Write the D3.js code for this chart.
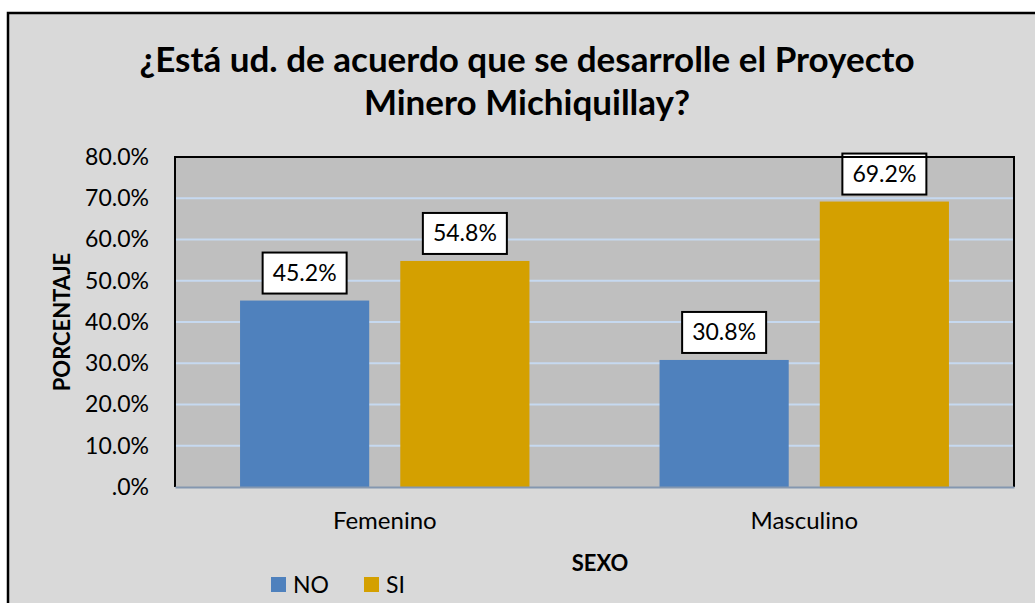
<!DOCTYPE html>
<html>
<head>
<meta charset="utf-8">
<script src="https://cdn.jsdelivr.net/npm/d3@7"></script>
<style>
  body { margin: 0; background: #fff; }
  svg { display: block; font-family: Lato, "Open Sans", sans-serif; }
</style>
</head>
<body>
<div id="chart"></div>
<script>
var categories = ["Femenino", "Masculino"];
var seriesNames = ["NO", "SI"];
var noValues = [45.2, 30.8];
var siValues = [54.8, 69.2];
var yTicks = [0, 10, 20, 30, 40, 50, 60, 70, 80];

var colors = { NO: "#4f81bd", SI: "#d4a000" };

var W = 1035, H = 603;
var plot = { left: 175, top: 157, right: 1014, bottom: 487 };

var svg = d3.select("#chart").append("svg")
  .attr("width", W)
  .attr("height", H);

// chart area background + outer border (cut off at right/bottom)
svg.append("rect")
  .attr("x", 8).attr("y", 13)
  .attr("width", W).attr("height", H)
  .attr("fill", "#d9d9d9")
  .attr("stroke", "#000")
  .attr("stroke-width", 2.5);

svg.append("text")
  .attr("x", 527).attr("y", 72)
  .attr("text-anchor", "middle")
  .attr("font-size", 35).attr("font-weight", "bold")
  .text("¿Está ud. de acuerdo que se desarrolle el Proyecto");
svg.append("text")
  .attr("x", 527).attr("y", 115)
  .attr("text-anchor", "middle")
  .attr("font-size", 35).attr("font-weight", "bold")
  .text("Minero Michiquillay?");

var y = d3.scaleLinear().domain([0, 80]).range([plot.bottom, plot.top]);
var x0 = d3.scaleBand().domain(categories).range([plot.left, plot.right]);
var x1 = d3.scaleBand().domain(seriesNames)
  .range([0, x0.bandwidth()])
  .paddingInner(0.194).paddingOuter(0.406);

svg.append("rect")
  .attr("x", plot.left).attr("y", plot.top)
  .attr("width", plot.right - plot.left).attr("height", plot.bottom - plot.top)
  .attr("fill", "#bfbfbf");

// gridlines
svg.append("g").selectAll("line")
  .data(yTicks.filter(function(d) { return d > 0 && d < 80; }))
  .enter().append("line")
  .attr("x1", plot.left).attr("x2", plot.right)
  .attr("y1", function(d) { return y(d); })
  .attr("y2", function(d) { return y(d); })
  .attr("stroke", "#c6d9f0")
  .attr("stroke-width", 2);

var rows = categories.map(function(c, i) {
  return { cat: c, vals: [{ s: "NO", v: noValues[i] }, { s: "SI", v: siValues[i] }] };
});

var groups = svg.append("g").selectAll("g")
  .data(rows).enter().append("g")
  .attr("transform", function(d) { return "translate(" + x0(d.cat) + ",0)"; });

groups.selectAll("rect")
  .data(function(d) { return d.vals; })
  .enter().append("rect")
  .attr("x", function(d) { return x1(d.s); })
  .attr("y", function(d) { return y(d.v); })
  .attr("width", x1.bandwidth())
  .attr("height", function(d) { return y(0) - y(d.v); })
  .attr("fill", function(d) { return colors[d.s]; });

// data labels
var labels = groups.selectAll("g.lbl")
  .data(function(d) { return d.vals; })
  .enter().append("g")
  .attr("class", "lbl")
  .attr("transform", function(d) {
    return "translate(" + (x1(d.s) + x1.bandwidth() / 2) + "," + (y(d.v) - 28) + ")";
  });
labels.append("rect")
  .attr("x", -42).attr("y", -20)
  .attr("width", 84).attr("height", 41)
  .attr("fill", "#fff")
  .attr("stroke", "#000")
  .attr("stroke-width", 2);
labels.append("text")
  .attr("text-anchor", "middle")
  .attr("dy", "0.36em")
  .attr("font-size", 23)
  .text(function(d) { return d.v.toFixed(1) + "%"; });

// plot border (left, top, right)
svg.append("path")
  .attr("d", "M" + plot.left + "," + plot.bottom + "V" + plot.top + "H" + plot.right + "V" + plot.bottom)
  .attr("fill", "none")
  .attr("stroke", "#000")
  .attr("stroke-width", 2);

// y axis
var yAxis = svg.append("g")
  .attr("transform", "translate(" + (plot.left - 26) + ",0)")
  .call(d3.axisLeft(y).tickValues(yTicks).tickSize(0).tickPadding(0)
    .tickFormat(function(d) { return d === 0 ? ".0%" : d.toFixed(1) + "%"; }));
yAxis.select(".domain").remove();
yAxis.selectAll("text")
  .attr("font-size", 23)
  .attr("fill", "#000")
  .attr("text-anchor", "end")
  .attr("font-family", "Lato, 'Open Sans', sans-serif");

// x axis
var xAxis = svg.append("g")
  .attr("transform", "translate(0," + plot.bottom + ")")
  .call(d3.axisBottom(x0).tickSize(0).tickPadding(25));
xAxis.select(".domain")
  .attr("stroke", "#8497b0")
  .attr("stroke-width", 2);
xAxis.selectAll("text")
  .attr("font-size", 24)
  .attr("fill", "#000")
  .attr("font-family", "Lato, 'Open Sans', sans-serif");

svg.append("text")
  .attr("x", 600).attr("y", 571)
  .attr("text-anchor", "middle")
  .attr("font-size", 22).attr("font-weight", "bold")
  .text("SEXO");

svg.append("text")
  .attr("transform", "translate(70,322) rotate(-90)")
  .attr("text-anchor", "middle")
  .attr("font-size", 22).attr("font-weight", "bold")
  .text("PORCENTAJE");

// legend
var legend = svg.append("g").selectAll("g")
  .data(seriesNames).enter().append("g")
  .attr("transform", function(d, i) { return "translate(" + (271 + i * 93) + ",577)"; });
legend.append("rect")
  .attr("width", 15).attr("height", 15)
  .attr("fill", function(d) { return colors[d]; });
legend.append("text")
  .attr("x", 22).attr("y", 8)
  .attr("dy", "0.36em")
  .attr("font-size", 23)
  .text(function(d) { return d; });
</script>
</body>
</html>
